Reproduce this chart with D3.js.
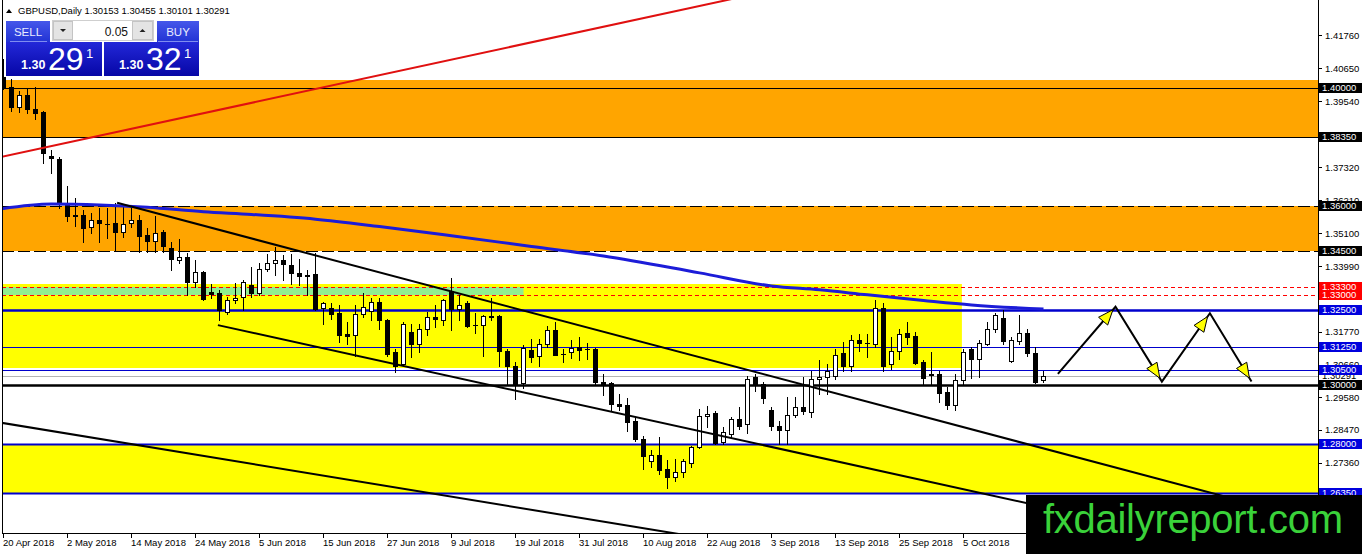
<!DOCTYPE html>
<html lang="en">
<head>
<meta charset="UTF-8">
<title>GBPUSD Daily</title>
<script src="https://cdn.jsdelivr.net/npm/d3@7.8.5/dist/d3.min.js"></script>
<style>
  html, body { margin: 0; padding: 0; background: #fff; }
  svg { display: block; }
</style>
</head>
<body>
<div id="chart"></div>
<script>
const W = 1362, H = 554
const plot = { left: 2, right: 1318, top: 0, bottom: 533 }

// daily candles, bar 0 = 20 Apr 2018
const opens = [1.4036, 1.4003, 1.3936, 1.3976, 1.3929, 1.3917, 1.3770, 1.3760, 1.3611, 1.3572,
  1.3571, 1.3531, 1.3554, 1.3542, 1.3544, 1.3515, 1.3543, 1.3554, 1.3503, 1.3484,
  1.3514, 1.3459, 1.3419, 1.3429, 1.3345, 1.3379, 1.3312, 1.3307, 1.3245, 1.3284,
  1.3295, 1.3334, 1.3307, 1.3389, 1.3409, 1.3419, 1.3402, 1.3375, 1.3368, 1.3372,
  1.3257, 1.3258, 1.3240, 1.3169, 1.3166, 1.3236, 1.3247, 1.3278, 1.3218, 1.3109,
  1.3070, 1.3177, 1.3138, 1.3188, 1.3226, 1.3218, 1.3314, 1.3256, 1.3273, 1.3200,
  1.3199, 1.3231, 1.3230, 1.3113, 1.3064, 1.3005, 1.3117, 1.3095, 1.3138, 1.3182,
  1.3104, 1.3109, 1.3126, 1.3119, 1.3121, 1.3010, 1.3006, 1.2935, 1.2931, 1.2876,
  1.2817, 1.2741, 1.2764, 1.2715, 1.2687, 1.2704, 1.2736, 1.2788, 1.2893, 1.2904,
  1.2805, 1.2834, 1.2884, 1.2867, 1.3025, 1.3002, 1.2915, 1.2860, 1.2847, 1.2898,
  1.2924, 1.2907, 1.3018, 1.3025, 1.3030, 1.3106, 1.3061, 1.3149, 1.3141, 1.3138,
  1.3259, 1.3070, 1.3113, 1.3175, 1.3162, 1.3075, 1.3037, 1.3036, 1.2976, 1.2931,
  1.3014, 1.3121, 1.3085, 1.3138, 1.3188, 1.3225, 1.3079, 1.3147, 1.3175, 1.3107,
  1.30153]
const highs = [1.4097, 1.4030, 1.3988, 1.4000, 1.4003, 1.3921, 1.3791, 1.3767, 1.3667, 1.3628,
  1.3588, 1.3578, 1.3596, 1.3596, 1.3613, 1.3599, 1.3599, 1.3571, 1.3527, 1.3568,
  1.3520, 1.3481, 1.3490, 1.3443, 1.3419, 1.3382, 1.3338, 1.3318, 1.3295, 1.3342,
  1.3351, 1.3396, 1.3409, 1.3439, 1.3464, 1.3436, 1.3439, 1.3422, 1.3385, 1.3443,
  1.3278, 1.3275, 1.3267, 1.3210, 1.3267, 1.3307, 1.3290, 1.3290, 1.3221, 1.3121,
  1.3210, 1.3205, 1.3205, 1.3245, 1.3269, 1.3287, 1.3358, 1.3301, 1.3282, 1.3240,
  1.3233, 1.3290, 1.3233, 1.3121, 1.3075, 1.3132, 1.3154, 1.3154, 1.3196, 1.3211,
  1.3121, 1.3149, 1.3159, 1.3139, 1.3124, 1.3036, 1.3008, 1.2969, 1.2955, 1.2890,
  1.2828, 1.2779, 1.2822, 1.2746, 1.2749, 1.2749, 1.2794, 1.2918, 1.2929, 1.2912,
  1.2856, 1.2890, 1.2923, 1.3030, 1.3034, 1.3008, 1.2926, 1.2878, 1.2957, 1.2957,
  1.3025, 1.3045, 1.3081, 1.3070, 1.3121, 1.3143, 1.3166, 1.3171, 1.3171, 1.3286,
  1.3273, 1.3160, 1.3188, 1.3211, 1.3177, 1.3081, 1.3109, 1.3045, 1.2991, 1.3036,
  1.3121, 1.3128, 1.3149, 1.3211, 1.3241, 1.3252, 1.3160, 1.3233, 1.3188, 1.3126,
  1.30455]
const lows = [1.3996, 1.3922, 1.3917, 1.3916, 1.3895, 1.3747, 1.3713, 1.3595, 1.3552, 1.3534,
  1.3481, 1.3510, 1.3481, 1.3494, 1.3453, 1.3497, 1.3532, 1.3447, 1.3447, 1.3447,
  1.3447, 1.3385, 1.3409, 1.3301, 1.3328, 1.3284, 1.3291, 1.3216, 1.3239, 1.3273,
  1.3250, 1.3295, 1.3301, 1.3382, 1.3368, 1.3351, 1.3340, 1.3334, 1.3301, 1.3250,
  1.3205, 1.3222, 1.3143, 1.3138, 1.3095, 1.3228, 1.3216, 1.3188, 1.3095, 1.3042,
  1.3064, 1.3093, 1.3109, 1.3166, 1.3194, 1.3199, 1.3182, 1.3218, 1.3194, 1.3173,
  1.3095, 1.3218, 1.3064, 1.2997, 1.2952, 1.2989, 1.3076, 1.3064, 1.3127, 1.3098,
  1.3076, 1.3090, 1.3083, 1.3087, 1.3003, 1.2966, 1.2912, 1.2915, 1.2845, 1.2811,
  1.2715, 1.2721, 1.2698, 1.2653, 1.2676, 1.2689, 1.2721, 1.2786, 1.2858, 1.2800,
  1.2800, 1.2822, 1.2850, 1.2836, 1.2978, 1.2937, 1.2847, 1.2800, 1.2800, 1.2890,
  1.2901, 1.2890, 1.2969, 1.2969, 1.3019, 1.3047, 1.3047, 1.3113, 1.3093, 1.3127,
  1.3047, 1.3053, 1.3087, 1.3138, 1.3070, 1.3000, 1.3003, 1.2941, 1.2916, 1.2915,
  1.2997, 1.3022, 1.3025, 1.3132, 1.3177, 1.3138, 1.3076, 1.3138, 1.3095, 1.3006,
  1.30101]
const closes = [1.4003, 1.3936, 1.3976, 1.3929, 1.3916, 1.3780, 1.3764, 1.3611, 1.3569, 1.3568,
  1.3527, 1.3554, 1.3545, 1.3540, 1.3515, 1.3541, 1.3554, 1.3501, 1.3484, 1.3511,
  1.3467, 1.3422, 1.3429, 1.3345, 1.3378, 1.3289, 1.3306, 1.3250, 1.3284, 1.3291,
  1.3345, 1.3307, 1.3389, 1.3409, 1.3419, 1.3405, 1.3374, 1.3366, 1.3366, 1.3253,
  1.3274, 1.3239, 1.3166, 1.3163, 1.3236, 1.3260, 1.3278, 1.3218, 1.3104, 1.3064,
  1.3205, 1.3138, 1.3188, 1.3228, 1.3220, 1.3284, 1.3256, 1.3269, 1.3196, 1.3199,
  1.3230, 1.3226, 1.3113, 1.3064, 1.3002, 1.3124, 1.3093, 1.3138, 1.3182, 1.3100,
  1.3103, 1.3123, 1.3117, 1.3118, 1.3008, 1.3000, 1.2935, 1.2929, 1.2873, 1.2817,
  1.2760, 1.2764, 1.2713, 1.2687, 1.2704, 1.2741, 1.2788, 1.2893, 1.2901, 1.2802,
  1.2839, 1.2884, 1.2862, 1.3019, 1.2997, 1.2955, 1.2862, 1.2847, 1.2899, 1.2924,
  1.2910, 1.3019, 1.3027, 1.3045, 1.3101, 1.3061, 1.3151, 1.3140, 1.3139, 1.3259,
  1.3061, 1.3112, 1.3171, 1.3160, 1.3072, 1.3022, 1.3032, 1.2971, 1.2931, 1.3014,
  1.3109, 1.3085, 1.3141, 1.3188, 1.3233, 1.3145, 1.3149, 1.3175, 1.3106, 1.3008,
  1.30291]

// moving average, read at some bars
const maBars = [-1, 6, 12, 18, 25, 31, 39, 47, 56, 66, 75, 87, 96, 102, 108, 115, 121, 130]
const maValues = [1.3589, 1.3608, 1.3605, 1.3597, 1.3582, 1.3573, 1.3557, 1.3532, 1.3501, 1.3465,
  1.3433, 1.3376, 1.3332, 1.3319, 1.3302, 1.3283, 1.3268, 1.3254]

// x axis labels
const dateBars = [0, 8, 16, 24, 32, 40, 48, 56, 64, 72, 80, 88, 96, 104, 112, 120]
const dateLabels = ['20 Apr 2018', '2 May 2018', '14 May 2018', '24 May 2018', '5 Jun 2018', '15 Jun 2018',
  '27 Jun 2018', '9 Jul 2018', '19 Jul 2018', '31 Jul 2018', '10 Aug 2018', '22 Aug 2018',
  '3 Sep 2018', '13 Sep 2018', '25 Sep 2018', '5 Oct 2018']

// price axis ticks (the ones not hidden under level labels)
const priceTicks = [1.4176, 1.4065, 1.3954, 1.3732, 1.3621, 1.3510, 1.3399,
  1.3177, 1.3066, 1.2958, 1.2847, 1.2736]

// horizontal levels
const levels = [1.40, 1.3835, 1.36, 1.345, 1.333, 1.33, 1.325, 1.3125, 1.305, 1.30, 1.28, 1.2635]

// zones (top, bottom, last bar; null = to the right edge)
const zoneTop = [1.4027, 1.3600, 1.3339, 1.3330, 1.2800]
const zoneBottom = [1.3835, 1.3450, 1.3056, 1.3300, 1.2635]
const zoneEnd = [null, null, 119.8, 65, null]

// trend lines: two anchors [bar, price]
const redLine = [[0, 1.3768], [89.6, 1.4290]]
const channelTop = [[14.2, 1.3612], [150, 1.2642]]
const channelBottom = [[26.8, 1.3200], [128, 1.2600]]
const lowLine = [[0, 1.2870], [85, 1.2494]]

// projected path
const pathBars = [131.8, 139, 144.8, 150.8, 156]
const pathPrices = [1.3036, 1.3262, 1.3010, 1.3240, 1.3010]

const ask = 1.30321

const x = d3.scaleLinear().domain([0, 164]).range([3.5, 3.5 + 8 * 164])
const y = d3.scaleLinear().domain([1.25, 1.4295]).range([plot.bottom, plot.top])
const fmt = d => d.toFixed(5)
const py = p => Math.round(y(p)) + 0.5

const svg = d3.select('#chart').append('svg')
  .attr('width', W).attr('height', H)
  .style('font-family', '"Liberation Sans", Arial, sans-serif')

svg.append('rect').attr('width', W).attr('height', H).attr('fill', '#fff')

const defs = svg.append('defs')
defs.append('clipPath').attr('id', 'plotclip').append('rect')
  .attr('x', plot.left).attr('y', plot.top)
  .attr('width', plot.right - plot.left).attr('height', plot.bottom - plot.top)

const g = svg.append('g').attr('clip-path', 'url(#plotclip)')

// zones
const zoneFill = ['#ffa500', '#ffa500', '#ffff00', '#90ee90', '#ffff00']
g.selectAll('rect.zone').data(zoneTop).enter().append('rect')
  .attr('class', 'zone')
  .attr('x', plot.left)
  .attr('y', d => Math.round(y(d)))
  .attr('width', (d, i) => (zoneEnd[i] == null ? plot.right : x(zoneEnd[i])) - plot.left)
  .attr('height', (d, i) => Math.round(y(zoneBottom[i])) - Math.round(y(d)))
  .attr('fill', (d, i) => zoneFill[i])

// levels
const levelStyle = [
  { c: '#000', w: 1, box: '#000' }, { c: '#000', w: 1, box: '#000' },
  { c: '#000', w: 1, d: '12,4', box: '#000' }, { c: '#000', w: 1, d: '12,4', box: '#000' },
  { c: '#ff0000', w: 1, d: '4,3', box: '#ff0000' }, { c: '#ff0000', w: 1, d: '4,3', box: '#ff0000' },
  { c: '#0000cd', w: 2.5, box: '#0000dd' }, { c: '#0000cd', w: 1, box: '#0000dd' },
  { c: '#0000cd', w: 1, box: '#0000dd' }, { c: '#000', w: 2.5, box: '#000' },
  { c: '#0000cd', w: 2.2, box: '#0000dd' }, { c: '#0000cd', w: 2.2, box: '#0000dd' }
]
g.selectAll('line.level').data(levels).enter().append('line')
  .attr('class', 'level')
  .attr('x1', plot.left).attr('x2', plot.right)
  .attr('y1', d => py(d)).attr('y2', d => py(d))
  .attr('stroke', (d, i) => levelStyle[i].c)
  .attr('stroke-width', (d, i) => levelStyle[i].w)
  .attr('stroke-dasharray', (d, i) => levelStyle[i].d || null)

// bid line
const bid = closes[closes.length - 1]
g.append('line')
  .attr('x1', plot.left).attr('x2', plot.right)
  .attr('y1', py(bid)).attr('y2', py(bid))
  .attr('stroke', '#b4b4b4').attr('stroke-width', 1)

// candles
const bars = d3.range(opens.length)
const cg = g.append('g')
cg.selectAll('line.wick').data(bars).enter().append('line')
  .attr('x1', i => x(i)).attr('x2', i => x(i))
  .attr('y1', i => Math.round(y(highs[i]))).attr('y2', i => Math.round(y(lows[i])) + 1)
  .attr('stroke', '#000').attr('stroke-width', 1)
cg.selectAll('rect.body').data(bars).enter().append('rect')
  .each(function (i) {
    const top = Math.round(y(Math.max(opens[i], closes[i])))
    const bot = Math.round(y(Math.min(opens[i], closes[i])))
    const up = closes[i] >= opens[i]
    const r = d3.select(this)
    if (bot - top < 2) {
      r.attr('x', x(i) - 2.5).attr('y', top).attr('width', 5).attr('height', Math.max(1, bot - top + 1)).attr('fill', '#000')
    } else if (up) {
      r.attr('x', x(i) - 2).attr('y', top + 0.5).attr('width', 4).attr('height', bot - top)
        .attr('fill', '#fff').attr('stroke', '#000').attr('stroke-width', 1)
    } else {
      r.attr('x', x(i) - 2.5).attr('y', top).attr('width', 5).attr('height', bot - top + 1).attr('fill', '#000')
    }
  })

// moving average
g.append('path')
  .datum(maBars.map((b, i) => [b, maValues[i]]))
  .attr('d', d3.line().x(d => x(d[0])).y(d => y(d[1])).curve(d3.curveMonotoneX))
  .attr('fill', 'none').attr('stroke', '#1c1cd8').attr('stroke-width', 3)

// trend lines
function extend(pts, fromBar, toBar) {
  const [a, b] = pts
  const k = (b[1] - a[1]) / (b[0] - a[0])
  const start = fromBar == null ? a[0] : fromBar
  return [[start, a[1] + k * (start - a[0])], [toBar, a[1] + k * (toBar - a[0])]]
}
const trend = [
  { p: extend(redLine, -5, 170), c: '#e01010' },
  { p: extend(channelTop, null, 170), c: '#000' },
  { p: extend(channelBottom, null, 170), c: '#000' },
  { p: extend(lowLine, -5, 170), c: '#000' }
]
g.selectAll('line.trend').data(trend).enter().append('line')
  .attr('x1', d => x(d.p[0][0])).attr('y1', d => y(d.p[0][1]))
  .attr('x2', d => x(d.p[1][0])).attr('y2', d => y(d.p[1][1]))
  .attr('stroke', d => d.c).attr('stroke-width', 2)

// projected zig-zag with arrowheads
const pts = pathBars.map((b, i) => [x(b), y(pathPrices[i])])
g.append('path').attr('d', d3.line()(pts))
  .attr('fill', 'none').attr('stroke', '#000').attr('stroke-width', 2)
function head(p0, p1) {
  const dx = p1[0] - p0[0], dy = p1[1] - p0[1], len = Math.hypot(dx, dy)
  const ux = dx / len, uy = dy / len
  const tip = [p1[0] - ux * 4, p1[1] - uy * 4]
  const base = [tip[0] - ux * 15, tip[1] - uy * 15]
  return [tip, [base[0] - uy * 6, base[1] + ux * 6], [base[0] + uy * 6, base[1] - ux * 6]]
}
g.selectAll('polygon.head').data(d3.range(1, pts.length)).enter().append('polygon')
  .attr('points', i => head(pts[i - 1], pts[i]).join(' '))
  .attr('fill', '#ffff00').attr('stroke', '#000').attr('stroke-width', 1)

// frame
svg.append('line').attr('x1', plot.left + 0.5).attr('x2', plot.left + 0.5)
  .attr('y1', 0).attr('y2', plot.bottom).attr('stroke', '#000')
svg.append('line').attr('x1', plot.right + 0.5).attr('x2', plot.right + 0.5)
  .attr('y1', 0).attr('y2', plot.bottom + 1).attr('stroke', '#000')
svg.append('line').attr('x1', plot.left).attr('x2', plot.right + 1)
  .attr('y1', plot.bottom + 0.5).attr('y2', plot.bottom + 0.5).attr('stroke', '#000')

// price axis
const ax = svg.append('g').style('font-size', '9.5px')
ax.selectAll('line.tick').data(priceTicks).enter().append('line')
  .attr('x1', plot.right).attr('x2', plot.right + 4)
  .attr('y1', d => py(d)).attr('y2', d => py(d)).attr('stroke', '#000')
ax.selectAll('text.tick').data(priceTicks).enter().append('text')
  .attr('x', plot.right + 7).attr('y', d => y(d) + 3.5)
  .attr('fill', '#000').text(fmt)

// bid label
ax.append('rect').attr('x', plot.right + 1).attr('y', Math.round(y(bid)) - 5)
  .attr('width', W - plot.right - 1).attr('height', 10).attr('fill', '#fff')
ax.append('text').attr('x', plot.right + 4).attr('y', y(bid) + 3.5).attr('fill', '#000').text(fmt(bid))

// level labels
const lab = ax.selectAll('g.lab').data(levels).enter().append('g')
  .attr('transform', d => `translate(${plot.right + 1},${Math.round(y(d)) - 5})`)
lab.append('rect').attr('width', W - plot.right - 1).attr('height', 10)
  .attr('fill', (d, i) => levelStyle[i].box)
lab.append('text').attr('x', 3).attr('y', 8.4).attr('fill', '#fff').text(fmt)

// time axis
const tx = svg.append('g').style('font-size', '9.5px')
tx.selectAll('line').data(dateBars).enter().append('line')
  .attr('x1', d => Math.round(x(d)) - 0.5).attr('x2', d => Math.round(x(d)) - 0.5)
  .attr('y1', plot.bottom).attr('y2', plot.bottom + 5).attr('stroke', '#000')
tx.selectAll('text').data(dateBars).enter().append('text')
  .attr('x', d => x(d) - 0.5).attr('y', 546)
  .attr('fill', '#000').text((d, i) => dateLabels[i])

// header
const last = opens.length - 1
svg.append('polygon').attr('points', '6,13 12,13 9,9').attr('fill', '#000')
svg.append('text').attr('x', 18).attr('y', 14).style('font-size', '9.5px').attr('fill', '#000')
  .text(`GBPUSD,Daily  ${fmt(opens[last])} ${fmt(highs[last])} ${fmt(lows[last])} ${fmt(closes[last])}`)

// one click trading panel
const gradBtn = defs.append('linearGradient').attr('id', 'btn').attr('x1', 0).attr('y1', 0).attr('x2', 0).attr('y2', 1)
gradBtn.append('stop').attr('offset', 0).attr('stop-color', '#4557ea')
gradBtn.append('stop').attr('offset', 1).attr('stop-color', '#2233d4')
const gradBox = defs.append('linearGradient').attr('id', 'pbox').attr('x1', 0).attr('y1', 0).attr('x2', 0).attr('y2', 1)
gradBox.append('stop').attr('offset', 0).attr('stop-color', '#2328d8')
gradBox.append('stop').attr('offset', 1).attr('stop-color', '#0606a6')

const pn = svg.append('g')
pn.append('rect').attr('x', 6).attr('y', 21).attr('width', 44).attr('height', 21).attr('fill', 'url(#btn)')
pn.append('rect').attr('x', 157).attr('y', 21).attr('width', 42).attr('height', 21).attr('fill', 'url(#btn)')
pn.append('line').attr('x1', 10).attr('x2', 47).attr('y1', 41.5).attr('y2', 41.5).attr('stroke', '#7f8cf0')
pn.append('line').attr('x1', 158).attr('x2', 198).attr('y1', 41.5).attr('y2', 41.5).attr('stroke', '#7f8cf0')
pn.append('text').attr('x', 28).attr('y', 36).attr('text-anchor', 'middle')
  .style('font-size', '11.5px').attr('fill', '#e8ecff').text('SELL')
pn.append('text').attr('x', 178).attr('y', 36).attr('text-anchor', 'middle')
  .style('font-size', '11.5px').attr('fill', '#e8ecff').text('BUY')

// lot box
pn.append('rect').attr('x', 52.5).attr('y', 20.5).attr('width', 101).attr('height', 20).attr('fill', '#fff').attr('stroke', '#cfcfcf')
pn.append('rect').attr('x', 53.5).attr('y', 21.5).attr('width', 19).attr('height', 18).attr('fill', '#e4e4e4').attr('stroke', '#c4c4c4')
pn.append('rect').attr('x', 132.5).attr('y', 21.5).attr('width', 20).attr('height', 18).attr('fill', '#e4e4e4').attr('stroke', '#c4c4c4')
pn.append('polygon').attr('points', '60,29 66,29 63,32').attr('fill', '#222')
pn.append('polygon').attr('points', '139.5,32 145.5,32 142.5,29').attr('fill', '#222')
pn.append('text').attr('x', 128).attr('y', 35.5).attr('text-anchor', 'end')
  .style('font-size', '12px').attr('fill', '#111').text('0.05')

// price boxes
function priceBox(x0, w, price) {
  const s = price.toFixed(5)
  pn.append('rect').attr('x', x0).attr('y', 42).attr('width', w).attr('height', 34).attr('fill', 'url(#pbox)')
  pn.append('text').attr('x', x0 + 15).attr('y', 69).style('font-size', '12.5px').style('font-weight', 'bold')
    .attr('fill', '#fff').text(s.slice(0, 4))
  pn.append('text').attr('x', x0 + 42).attr('y', 70).style('font-size', '32px')
    .attr('fill', '#fff').text(s.slice(4, 6))
  pn.append('text').attr('x', x0 + 80).attr('y', 58).style('font-size', '13px')
    .attr('fill', '#fff').text(s.slice(6))
}
priceBox(6, 96, bid)
priceBox(104, 95, ask)

// watermark
svg.append('rect').attr('x', 1026).attr('y', 495).attr('width', W - 1026).attr('height', H - 495).attr('fill', '#000')
svg.append('text').attr('x', 1043).attr('y', 533)
  .style('font-size', '40px').attr('textLength', 300).attr('fill', '#3ad23a')
  .text('fxdailyreport.com')
</script>
</body>
</html>
